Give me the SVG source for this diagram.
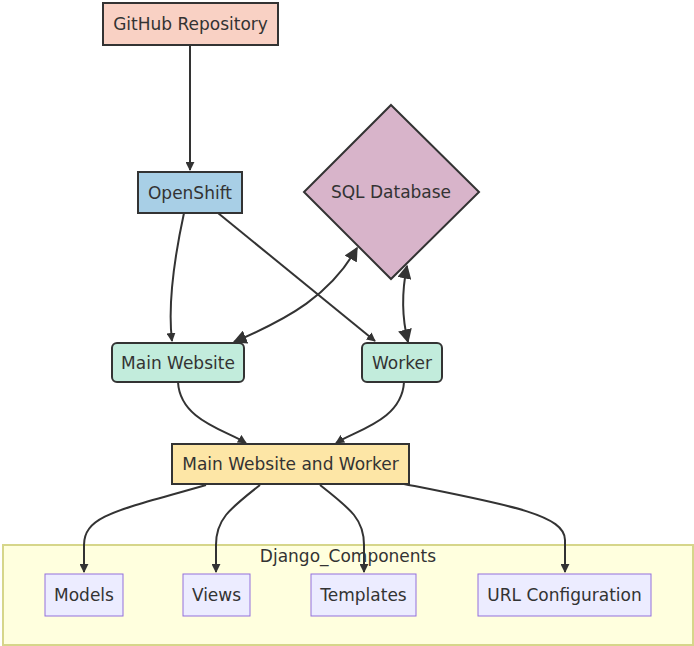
<svg xmlns="http://www.w3.org/2000/svg" width="694" height="646" viewBox="0 0 694 646">
<style>
text{font-family:"DejaVu Sans","Liberation Sans",sans-serif;font-size:17px;fill:#333;text-anchor:middle;dominant-baseline:central}
.n{stroke:#333;stroke-width:2}
.c{fill:#ececff;stroke:#9370db;stroke-width:1}
.e{fill:none;stroke:#333;stroke-width:2}
</style>
<defs>
<marker id="ah" viewBox="0 0 10 10" refX="9" refY="5" markerWidth="9" markerHeight="9" orient="auto-start-reverse" markerUnits="userSpaceOnUse">
<path d="M0,0 L10,5 L0,10 z" fill="#333"/>
</marker>
<marker id="ab" viewBox="0 0 10 10" refX="9" refY="5" markerWidth="14" markerHeight="14" orient="auto-start-reverse" markerUnits="userSpaceOnUse">
<path d="M0,0 L10,5 L0,10 z" fill="#333"/>
</marker>
</defs>
<rect width="694" height="646" fill="#fff"/>
<g id="cluster-django">
<rect x="3" y="545" width="690" height="100" fill="#ffffde" stroke="#d6d68a" stroke-width="2"/>
<text x="348" y="556">Django_Components</text>
</g>
<g id="connectors">
<path class="e" d="M190,45 L190,170" marker-end="url(#ah)"/>
<path class="e" d="M184,213 C176,250 167,300 172,341" marker-end="url(#ah)"/>
<path class="e" d="M218,213 L375,341" marker-end="url(#ah)"/>
<path class="e" d="M234,342 C290,318 330,295 357,248" marker-start="url(#ab)" marker-end="url(#ab)"/>
<path class="e" d="M408,342 C402,318 402,290 407,266" marker-start="url(#ab)" marker-end="url(#ab)"/>
<path class="e" d="M178,382 C180,420 225,430 246,443" marker-end="url(#ah)"/>
<path class="e" d="M404,382 C402,420 357,430 336,443" marker-end="url(#ah)"/>
<path class="e" d="M206,485 C120,510 84,515 84,545 L84,572" marker-end="url(#ah)"/>
<path class="e" d="M260,485 C228,510 216,520 216,545 L216,572" marker-end="url(#ah)"/>
<path class="e" d="M320,485 C352,510 364,520 364,545 L364,572" marker-end="url(#ah)"/>
<path class="e" d="M404,484 C510,505 565,515 565,540 L565,572" marker-end="url(#ah)"/>
</g>
<g id="github">
<rect class="n" x="103" y="3" width="175" height="42" fill="#f9d1c4"/>
<text x="190.5" y="24">GitHub Repository</text>
</g>
<g id="openshift">
<rect class="n" x="138" y="172" width="104" height="41" fill="#a8cfe6"/>
<text x="190" y="192.5">OpenShift</text>
</g>
<g id="sql">
<polygon class="n" points="391,105 479,192 391,279 304,192" fill="#d8b4ca"/>
<text x="391" y="192">SQL Database</text>
</g>
<g id="main-website">
<rect class="n" x="112" y="343" width="132" height="39" rx="5" fill="#c2ecdc"/>
<text x="178" y="362.5">Main Website</text>
</g>
<g id="worker">
<rect class="n" x="362" y="343" width="80" height="39" rx="5" fill="#c2ecdc"/>
<text x="402" y="362.5">Worker</text>
</g>
<g id="mww">
<rect class="n" x="172" y="444" width="237" height="40" fill="#fde6a6"/>
<text x="290.5" y="464">Main Website and Worker</text>
</g>
<g id="models">
<rect class="c" x="45" y="574" width="78" height="42"/>
<text x="84" y="595">Models</text>
</g>
<g id="views">
<rect class="c" x="183" y="574" width="67" height="42"/>
<text x="216.5" y="595">Views</text>
</g>
<g id="templates">
<rect class="c" x="311" y="574" width="105" height="42"/>
<text x="363.5" y="595">Templates</text>
</g>
<g id="url">
<rect class="c" x="478" y="574" width="173" height="42"/>
<text x="564.5" y="595">URL Configuration</text>
</g>
</svg>
